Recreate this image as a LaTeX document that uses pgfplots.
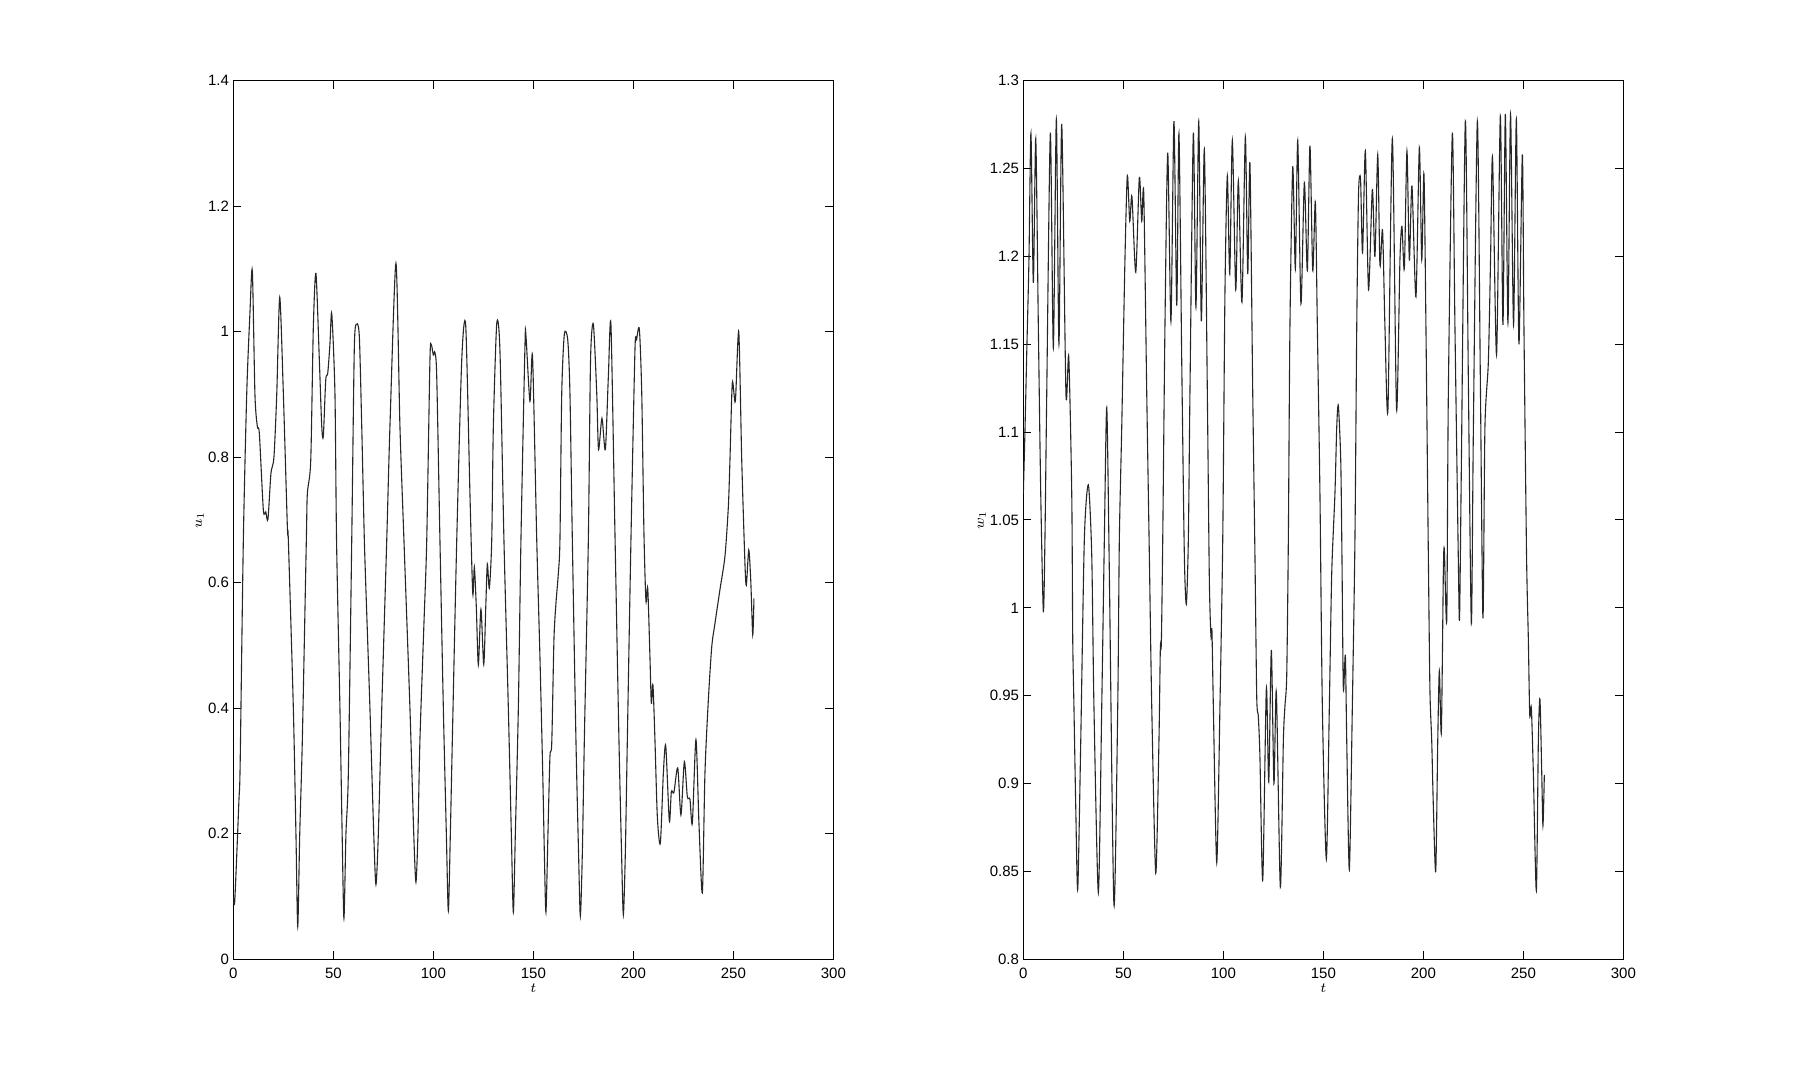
\documentclass[border=0pt]{standalone}
\usepackage{fontspec}
\setmainfont{Liberation Sans}
\usepackage{pgfplots}
\pgfplotsset{compat=1.18}
\begin{document}
\begin{tikzpicture}
\path[use as bounding box] (0,0) rectangle (897.5pt,539.5pt);
\pgfplotsset{
  myax/.style={
    anchor=south west, width=300pt, height=439.3pt, scale only axis,
    xmin=0, xmax=300, xtick={0,50,...,300},
    axis line style={line width=0.5pt, black},
    every tick/.style={black, line width=0.5pt},
    major tick length=4pt, tick align=inside,
    /pgf/number format/assume math mode=true,
    /pgf/number format/fixed,
    ticklabel style={font=\fontsize{7.5}{9}\selectfont, inner sep=0pt},
    xticklabel style={anchor=north, yshift=-4pt},
    yticklabel style={anchor=east, xshift=-2pt},
    every axis x label/.style={at={(axis description cs:0.5,0)}, anchor=center, yshift=-14.5pt, font=\fontsize{7.5}{9}\selectfont},
  },
  mycurve/.style={line width=0.55pt, black!85, smooth, tension=0.45, mark=none},
}
\begin{axis}[myax, at={(116.67pt,59.85pt)},
  ymin=0, ymax=1.4, ytick={0,0.2,...,1.4},
  xlabel={$t$}, ylabel={$u_1$},
  every axis y label/.style={at={(axis description cs:0,0.5)}, xshift=-16.7pt, rotate=90, anchor=center, font=\fontsize{7.5}{9}\selectfont},
]
\addplot[mycurve] coordinates {
(0,0.10) (0.6,0.088) (1.5,0.15) (2.8,0.254) (3.4,0.31) (5,0.668) (6.7,0.902) (8.3,1.03) (9.5,1.097)
(10.8,0.90) (12,0.849) (13,0.838) (15,0.716) (16.2,0.713) (17.3,0.701) (18.8,0.774) (20.3,0.80) (21.7,0.90) (23.2,1.055)
(25,0.902) (27,0.69) (27.5,0.668) (30,0.40) (31.3,0.2) (32.2,0.052) (33.2,0.2) (34.5,0.35) (36.5,0.668)
(37,0.742) (38.7,0.795) (40,1.008) (41.3,1.093) (43,0.955) (44.2,0.849) (45,0.834) (46.2,0.923) (47.2,0.934) (48.3,0.98) (49.2,1.029)
(50.8,0.902) (51.6,0.668) (53.3,0.40) (54.4,0.2) (55.3,0.065) (56.3,0.2) (57.5,0.296) (59.2,0.668) (60.5,0.976) (61.7,1.012) (63,0.992)
(64.2,0.849) (65.5,0.668) (66.7,0.551) (68.3,0.40) (70.2,0.2) (71.3,0.119) (72.5,0.2) (74.2,0.40) (76.7,0.668) (78.3,0.849) (81.3,1.109)
(83.3,0.849) (85.3,0.668) (88.3,0.40) (90.2,0.2) (91.3,0.123) (92.3,0.2) (93.3,0.35) (95.3,0.535) (96.7,0.668) (98.3,0.955) (99,0.979)
(100,0.963) (100.8,0.967) (101.7,0.928) (103.3,0.668) (105,0.40) (106.5,0.2) (107.5,0.077) (108.5,0.2) (109.5,0.35) (111.7,0.668)
(114.2,0.955) (116.2,1.009) (118.3,0.742) (119.7,0.583) (120.5,0.625) (121.5,0.56) (122.5,0.469) (123.8,0.558) (125.2,0.470)
(126.2,0.56) (127,0.630) (128,0.591) (129.2,0.668) (130,0.849) (131.7,1.013) (133.3,0.97) (135.3,0.668) (137.5,0.40) (139,0.2)
(140,0.075) (141,0.2) (142.5,0.40) (143.8,0.668) (145.8,0.976) (146.3,0.994) (148.3,0.889) (149.6,0.960) (151.7,0.668)
(153.3,0.482) (154.7,0.296) (155.5,0.17) (156.3,0.075) (157.3,0.2) (158.3,0.323) (159.2,0.344) (160.3,0.509) (161.3,0.567)
(162.5,0.615) (163.3,0.668) (164.2,0.902) (165.5,0.996) (167.2,0.987) (168.3,0.902) (169.5,0.668) (171.3,0.35) (172.6,0.17)
(173.5,0.069) (174.5,0.17) (175.5,0.35) (177.5,0.668) (178.6,0.955) (180,1.012) (181.7,0.902) (182.6,0.812) (184.3,0.862)
(186,0.812) (187.5,0.928) (188.8,1.011) (190.8,0.68) (192.8,0.35) (194.1,0.17) (195,0.071) (196,0.17) (197,0.35) (198.8,0.668)
(200.8,0.97) (201.6,0.987) (203,1.004) (204.2,0.902) (205.3,0.68) (206.3,0.571) (207.2,0.591) (208.3,0.482) (209,0.408)
(209.8,0.437) (210.8,0.35) (212,0.227) (213.5,0.185) (215,0.296) (216.2,0.340) (218,0.220) (219,0.267) (220.3,0.266)
(222.2,0.305) (223.8,0.230) (225.5,0.315) (227,0.259) (228.3,0.255) (229.5,0.217) (231.3,0.350) (232.8,0.217) (234.5,0.106)
(235.8,0.296) (237.5,0.413) (239.2,0.498) (240.8,0.535) (243.3,0.589) (245.8,0.642) (247.5,0.721) (248.3,0.795) (249.5,0.919)
(251,0.889) (252.7,1.0) (254.2,0.795) (255.8,0.631) (256.5,0.596) (257.7,0.652) (258.7,0.604) (259.7,0.517) (260.3,0.575)
};
\end{axis}
\begin{axis}[myax, at={(511.67pt,59.85pt)},
  ymin=0.8, ymax=1.3, ytick={0.8,0.85,...,1.31},
  yticklabel style={/pgf/number format/precision=2},
  xlabel={$t$}, ylabel={$w_1$},
  every axis y label/.style={at={(axis description cs:0,0.5)}, xshift=-20.8pt, rotate=90, anchor=center, font=\fontsize{7.5}{9}\selectfont},
]
\addplot[mycurve] coordinates {
(0,1.065) (0.8,1.10) (1.7,1.145) (2.8,1.198) (3.8,1.27) (5,1.185) (6.2,1.267) (7.5,1.16) (8.7,1.065) (10,0.998) (10.8,1.039)
(11.7,1.122) (13.5,1.27) (15,1.148) (16.5,1.278) (17.8,1.15) (19.2,1.275) (21.3,1.122) (22.7,1.143) (24.2,1.065) (24.7,0.982)
(25.3,0.944) (26.2,0.887) (27.2,0.840) (28.7,0.924) (30.5,1.039) (32.5,1.07) (34.2,1.03) (35.3,0.944) (37.5,0.838) (39.2,0.944)
(40.5,1.039) (41.7,1.114) (43,1.02) (45.3,0.831) (47.2,0.944) (48,1.039) (49.2,1.103) (50.8,1.198) (52,1.246) (53.2,1.22)
(54.3,1.234) (56.2,1.191) (58,1.245) (59.2,1.22) (60.2,1.236) (61.7,1.122) (63,1.03) (64.2,0.944) (66.2,0.849) (67.8,0.924)
(68.5,0.977) (69,0.98) (69.7,1.039) (70.8,1.16) (72.2,1.259) (73.8,1.163) (75.3,1.277) (76.7,1.172) (77.8,1.27) (79.2,1.14)
(80.5,1.03) (81.5,1.002) (82.5,1.039) (83.3,1.122) (85,1.27) (86.3,1.171) (87.7,1.277) (89,1.163) (90.5,1.261) (92,1.122)
(93,1.016) (93.8,0.984) (94.3,0.987) (95,0.944) (96.7,0.855) (98.3,0.944) (99.7,1.039) (100.8,1.179) (102,1.246) (103.2,1.19)
(104.5,1.266) (106.2,1.181) (107.5,1.243) (109.3,1.174) (111,1.268) (112.2,1.19) (113.3,1.253) (114.7,1.122) (115.8,1.03)
(116.7,0.949) (117.5,0.938) (118.3,0.915) (119.7,0.845) (121.5,0.954) (122.7,0.901) (124,0.976) (125.3,0.9) (126.5,0.952)
(128.5,0.841) (130,0.924) (130.8,0.944) (131.7,0.962) (132.5,1.039) (133.3,1.16) (134.7,1.251) (136,1.193) (137.2,1.266)
(138.8,1.173) (140.5,1.242) (142,1.192) (143.3,1.263) (144.7,1.192) (146,1.231) (147,1.16) (148.3,1.065) (149.5,0.944)
(151.5,0.857) (153,0.944) (154.2,1.02) (155.8,1.065) (156.7,1.103) (157.5,1.115) (158.7,1.084) (159.3,1.03) (160,0.954)
(161,0.973) (161.7,0.924) (163,0.851) (164.5,0.944) (165.8,1.039) (166.7,1.16) (167.6,1.236) (168.6,1.244) (169.6,1.202)
(171,1.26) (172.6,1.181) (174.5,1.238) (175.8,1.2) (177.2,1.258) (178.3,1.195) (179.6,1.215) (180.8,1.16) (182.3,1.113)
(184.5,1.267) (186.6,1.113) (188.3,1.198) (189.3,1.217) (190.5,1.193) (191.8,1.26) (193,1.198) (194.3,1.24) (196.3,1.177)
(198,1.262) (199.2,1.198) (200.3,1.247) (201.3,1.16) (202.5,1.03) (203.3,0.953) (204.2,0.924) (205,0.887) (206.2,0.85)
(207.2,0.924) (208,0.964) (209,0.929) (210,1.02) (210.5,1.033) (211.7,0.993) (212.5,1.122) (214.5,1.27) (215.8,1.16)
(217.5,1.027) (218.1,0.994) (219,1.08) (221,1.277) (222.5,1.13) (224,0.991) (225,1.10) (227,1.277) (228.5,1.13) (229.8,0.994)
(230.8,1.103) (232.5,1.14) (233.6,1.198) (234.6,1.256) (236.6,1.144) (238.5,1.28) (239.8,1.161) (241,1.281) (242.3,1.162)
(243.6,1.281) (245.1,1.161) (246.5,1.278) (247.8,1.15) (249.5,1.258) (250.3,1.16) (251.6,1.03) (252.5,0.982) (253.2,0.939)
(254,0.943) (255,0.906) (256.5,0.839) (257.5,0.924) (258.3,0.948) (259.2,0.906) (259.8,0.876) (260.5,0.905)
};
\end{axis}
\end{tikzpicture}
\end{document}
